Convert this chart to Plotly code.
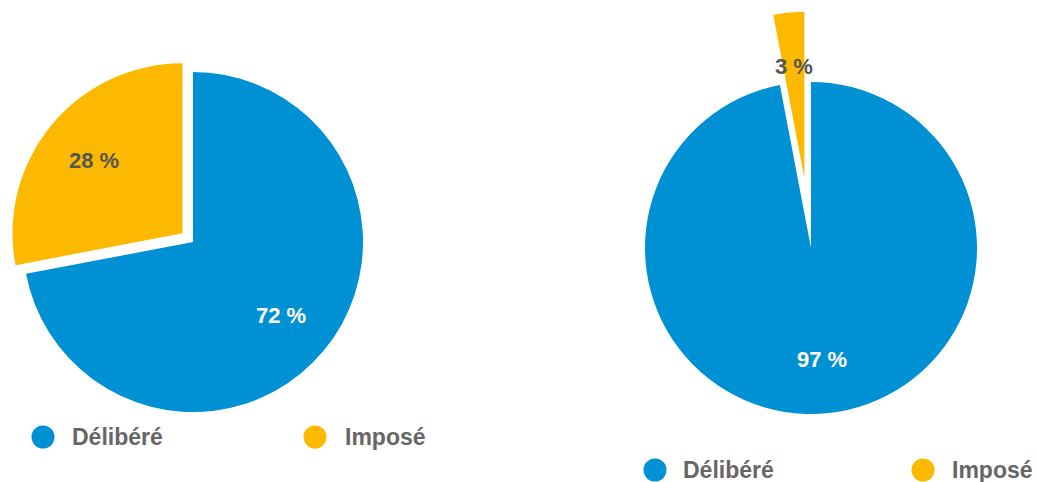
import math
import plotly.graph_objects as go

# --- data -------------------------------------------------------------
categories = ["Délibéré", "Imposé"]
left_values = [72, 28]
right_values = [97, 3]
value_labels_left = ["72 %", "28 %"]
value_labels_right = ["97 %", "3 %"]

# --- styling ------------------------------------------------------------
W, H = 1037, 482
BLUE = "#0090D4"
YELLOW = "#FDB900"
COLORS = [BLUE, YELLOW]
LABEL_COLORS = ["#FFFFFF", "#555555"]
LEGEND_TEXT = "#666666"
FONT = "Liberation Sans"
CLEAR = "rgba(0,0,0,0)"

fig = go.Figure()
annotations = []
shapes = []


def domain_for(cx, cy, r):
    """Pie domain (paper units) for a pie of radius r centred at pixel (cx, cy)."""
    return dict(x=[(cx - r) / W, (cx + r) / W],
                y=[1 - (cy + r) / H, 1 - (cy - r) / H])


def add_pie(values, labels, cx, cy, r, pulled_index, pull):
    total = float(sum(values))
    # slice bisectors, measured clockwise from 12 o'clock
    mids = []
    acc = 0.0
    for v in values:
        mids.append((acc + v / 2.0) / total * 2 * math.pi)
        acc += v
    for i, v in enumerate(values):
        d = pull * r if i == pulled_index else 0.0
        scx = cx + math.sin(mids[i]) * d
        scy = cy - math.cos(mids[i]) * d
        colors = [COLORS[j] if j == i else CLEAR for j in range(len(values))]
        fig.add_trace(go.Pie(
            labels=categories, values=values, sort=False,
            direction="clockwise", rotation=0,
            marker=dict(colors=colors, line=dict(width=0)),
            textinfo="none", hoverinfo="skip", showlegend=False,
            domain=domain_for(scx, scy, r),
        ))
        # value label along the slice bisector
        lx = scx + math.sin(mids[i]) * 0.675 * r
        ly = scy - math.cos(mids[i]) * 0.675 * r
        annotations.append(dict(
            x=lx / W, y=1 - ly / H, xref="paper", yref="paper",
            text=labels[i], showarrow=False,
            font=dict(family=FONT, size=22, color=LABEL_COLORS[i], weight="bold"),
            xanchor="center", yanchor="middle",
        ))


def add_legend(items):
    for (ccx, ccy, tx), name, color in zip(items, categories, COLORS):
        rad = 11.5
        shapes.append(dict(
            type="circle", xref="paper", yref="paper",
            x0=(ccx - rad) / W, x1=(ccx + rad) / W,
            y0=1 - (ccy + rad) / H, y1=1 - (ccy - rad) / H,
            fillcolor=color, line=dict(width=0),
        ))
        annotations.append(dict(
            x=(tx - 2) / W, y=1 - ccy / H, xref="paper", yref="paper",
            text=name, showarrow=False,
            font=dict(family=FONT, size=23, color=LEGEND_TEXT, weight="bold"),
            xanchor="left", yanchor="middle",
        ))


add_pie(left_values, value_labels_left, 193, 242, 170, 1, 0.08)
add_pie(right_values, value_labels_right, 811, 248, 166, 1, 0.425)

add_legend([(43, 437, 72), (315, 437, 345)])
add_legend([(655, 470, 683), (923, 470, 952)])

fig.update_layout(
    width=W, height=H,
    margin=dict(l=0, r=0, t=0, b=0),
    paper_bgcolor="white", plot_bgcolor="white",
    showlegend=False,
    annotations=annotations,
    shapes=shapes,
)

fig.write_html("out.html")
